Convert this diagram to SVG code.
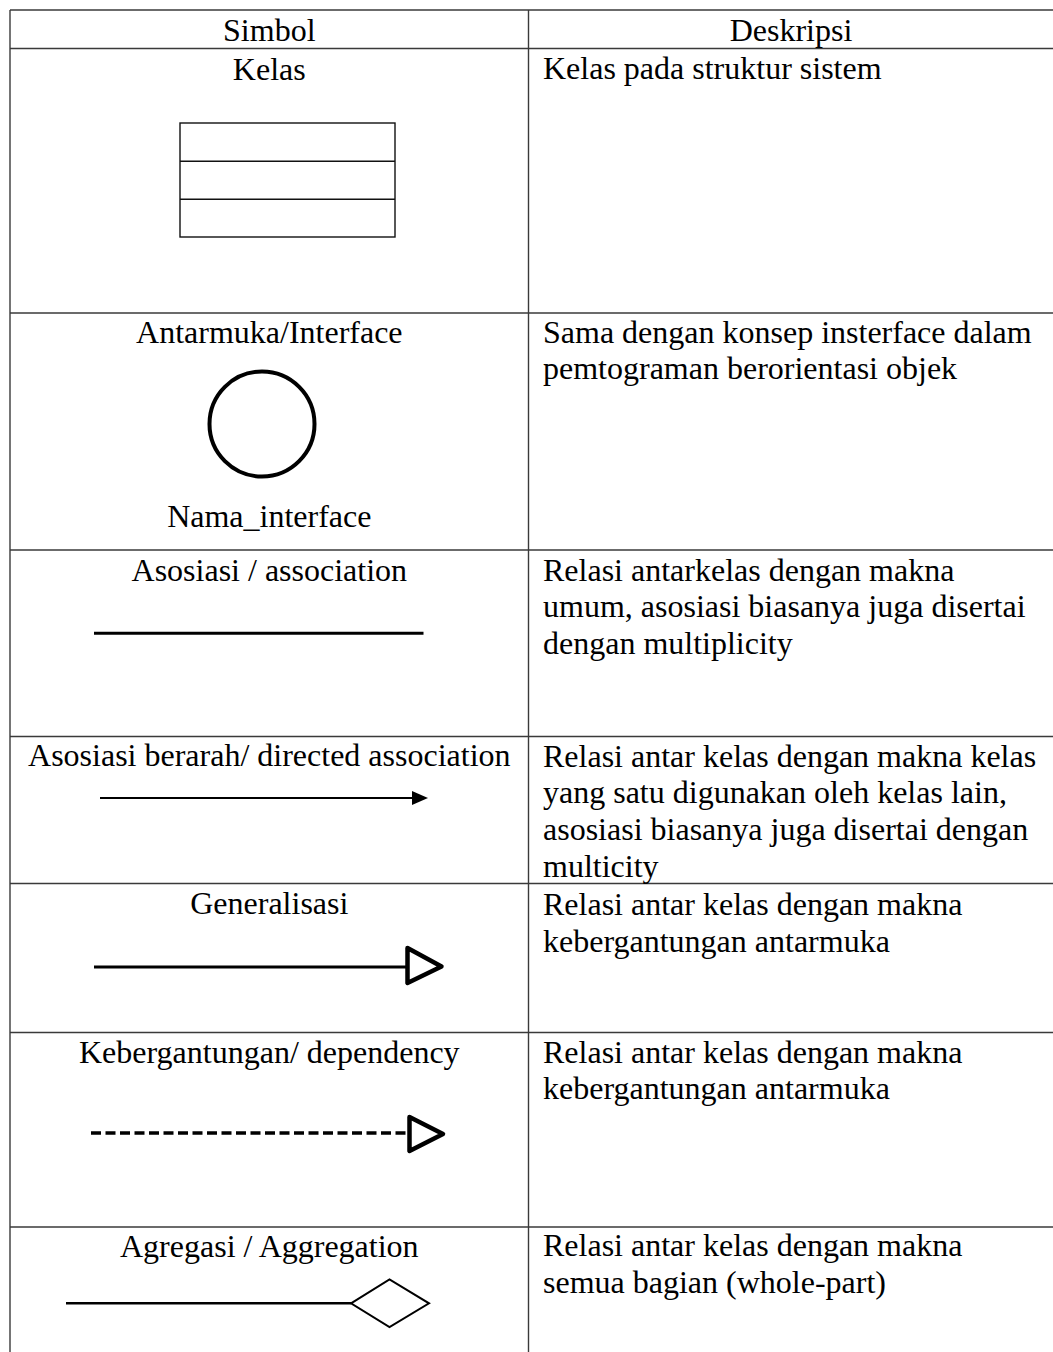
<svg xmlns="http://www.w3.org/2000/svg" width="1053" height="1352" viewBox="0 0 1053 1352">
<style>
  text { font-family: "Liberation Serif", "Times New Roman", serif; font-size: 32px; fill: #000; }
  .c { text-anchor: middle; }
  .grid { stroke: #3a3a3a; stroke-width: 1.4; fill: none; }
  .thin { stroke: #111; stroke-width: 1.4; fill: none; }
  .conn { stroke: #000; fill: none; }
</style>
<rect x="0" y="0" width="1053" height="1352" fill="#fff"/>
<g id="table-grid" class="grid">
  <line x1="10" y1="10" x2="1053" y2="10"/>
  <line x1="10" y1="48.5" x2="1053" y2="48.5"/>
  <line x1="10" y1="313" x2="1053" y2="313"/>
  <line x1="10" y1="550" x2="1053" y2="550"/>
  <line x1="10" y1="736.5" x2="1053" y2="736.5"/>
  <line x1="10" y1="883.5" x2="1053" y2="883.5"/>
  <line x1="10" y1="1032.5" x2="1053" y2="1032.5"/>
  <line x1="10" y1="1227" x2="1053" y2="1227"/>
  <line x1="10" y1="10" x2="10" y2="1352"/>
  <line x1="528.5" y1="10" x2="528.5" y2="1352"/>
</g>
<g id="header">
  <text class="c" x="269.3" y="41">Simbol</text>
  <text class="c" x="791" y="41">Deskripsi</text>
</g>
<g id="row-kelas">
  <text class="c" x="269.3" y="80">Kelas</text>
  <rect class="thin" x="180" y="123" width="215" height="114"/>
  <line class="thin" x1="180" y1="161.3" x2="395" y2="161.3"/>
  <line class="thin" x1="180" y1="199.3" x2="395" y2="199.3"/>
  <text x="543" y="78.5">Kelas pada struktur sistem</text>
</g>
<g id="row-interface">
  <text class="c" x="269.3" y="343">Antarmuka/Interface</text>
  <circle cx="262" cy="424" r="52.5" fill="none" stroke="#000" stroke-width="4"/>
  <text class="c" x="269.3" y="527">Nama_interface</text>
  <text x="543" y="342.7">Sama dengan konsep insterface dalam</text>
  <text x="543" y="379.4">pemtograman berorientasi objek</text>
</g>
<g id="row-asosiasi">
  <text class="c" x="269.3" y="581">Asosiasi / association</text>
  <text x="543" y="580.7">Relasi antarkelas dengan makna</text>
  <text x="543" y="617.4">umum, asosiasi biasanya juga disertai</text>
  <text x="543" y="654.1">dengan multiplicity</text>
</g>
<g id="row-directed">
  <text class="c" x="269.3" y="766">Asosiasi berarah/ directed association</text>
  <text x="543" y="766.7">Relasi antar kelas dengan makna kelas</text>
  <text x="543" y="803.4">yang satu digunakan oleh kelas lain,</text>
  <text x="543" y="840.1">asosiasi biasanya juga disertai dengan</text>
  <text x="543" y="876.8">multicity</text>
</g>
<g id="row-generalisasi">
  <text class="c" x="269.3" y="914">Generalisasi</text>
  <text x="543" y="915">Relasi antar kelas dengan makna</text>
  <text x="543" y="951.7">kebergantungan antarmuka</text>
</g>
<g id="row-dependency">
  <text class="c" x="269.3" y="1063">Kebergantungan/ dependency</text>
  <text x="543" y="1062.7">Relasi antar kelas dengan makna</text>
  <text x="543" y="1099.4">kebergantungan antarmuka</text>
</g>
<g id="row-agregasi">
  <text class="c" x="269.3" y="1257">Agregasi / Aggregation</text>
  <text x="543" y="1256">Relasi antar kelas dengan makna</text>
  <text x="543" y="1292.7">semua bagian (whole-part)</text>
</g>
<g id="connectors">
  <line class="conn" x1="94" y1="633.3" x2="423.5" y2="633.3" stroke-width="3"/>
  <line class="conn" x1="100" y1="798" x2="414" y2="798" stroke-width="2"/>
  <polygon points="412,791 428,798 412,805" fill="#000"/>
  <line class="conn" x1="94" y1="967" x2="406" y2="967" stroke-width="3"/>
  <polygon points="407.5,948 441.5,966.5 407.5,983" fill="#fff" stroke="#000" stroke-width="4.5" stroke-linejoin="round"/>
  <line class="conn" x1="91" y1="1133" x2="408" y2="1133" stroke-width="3.5" stroke-dasharray="10,4.5"/>
  <polygon points="409.5,1117 443,1134 409.5,1151" fill="#fff" stroke="#000" stroke-width="4.5" stroke-linejoin="round"/>
  <line class="conn" x1="66" y1="1303.3" x2="351" y2="1303.3" stroke-width="2.6"/>
  <polygon points="351,1303.3 389.5,1279.5 429,1303.3 389.5,1327" fill="#fff" stroke="#000" stroke-width="2"/>
</g>
</svg>
